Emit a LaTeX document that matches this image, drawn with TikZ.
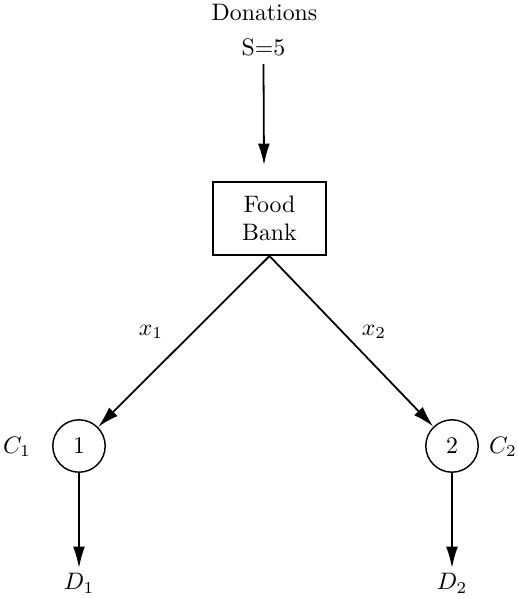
\documentclass[tikz,border=0pt]{standalone}
\usetikzlibrary{arrows.meta}
\begin{document}
\begin{tikzpicture}[x=0.42pt,y=-0.42pt,
  arr/.style={-{Latex[length=9pt,width=5pt]}, line width=0.75pt},
  bankbox/.style={draw, line width=0.8pt, minimum width=47.5pt, minimum height=30.7pt, align=center, inner sep=0pt},
  cnode/.style={draw, circle, line width=0.6pt, minimum size=22pt, inner sep=0pt},
  dlbl/.style={anchor=north, inner sep=2pt}]
\useasboundingbox (0,0) rectangle (517,599);
\node (don) at (264.5,12) {Donations};
\node (s) at (263.5,47) {S=5};
\coordinate (in) at (264,165);
\node[bankbox] (fb) at (269.5,218.5) {Food\\Bank};
\node[cnode] (c1) at (79,446) {1};
\node[cnode] (c2) at (452,446) {2};
\node (lc1) at (17,447) {$C_1$};
\node (lc2) at (503,447) {$C_2$};
\node (lx1) at (151,332) {$x_1$};
\node (lx2) at (374,332) {$x_2$};
\node[dlbl] (d1) at (79,568) {$D_1$};
\node[dlbl] (d2) at (452,568) {$D_2$};
\draw[arr] (s.south) -- (in);
\draw[arr] (fb.south) -- (c1);
\draw[arr] (fb.south) -- (c2);
\draw[arr] (c1.south) -- (d1.north);
\draw[arr] (c2.south) -- (d2.north);
\end{tikzpicture}
\end{document}
